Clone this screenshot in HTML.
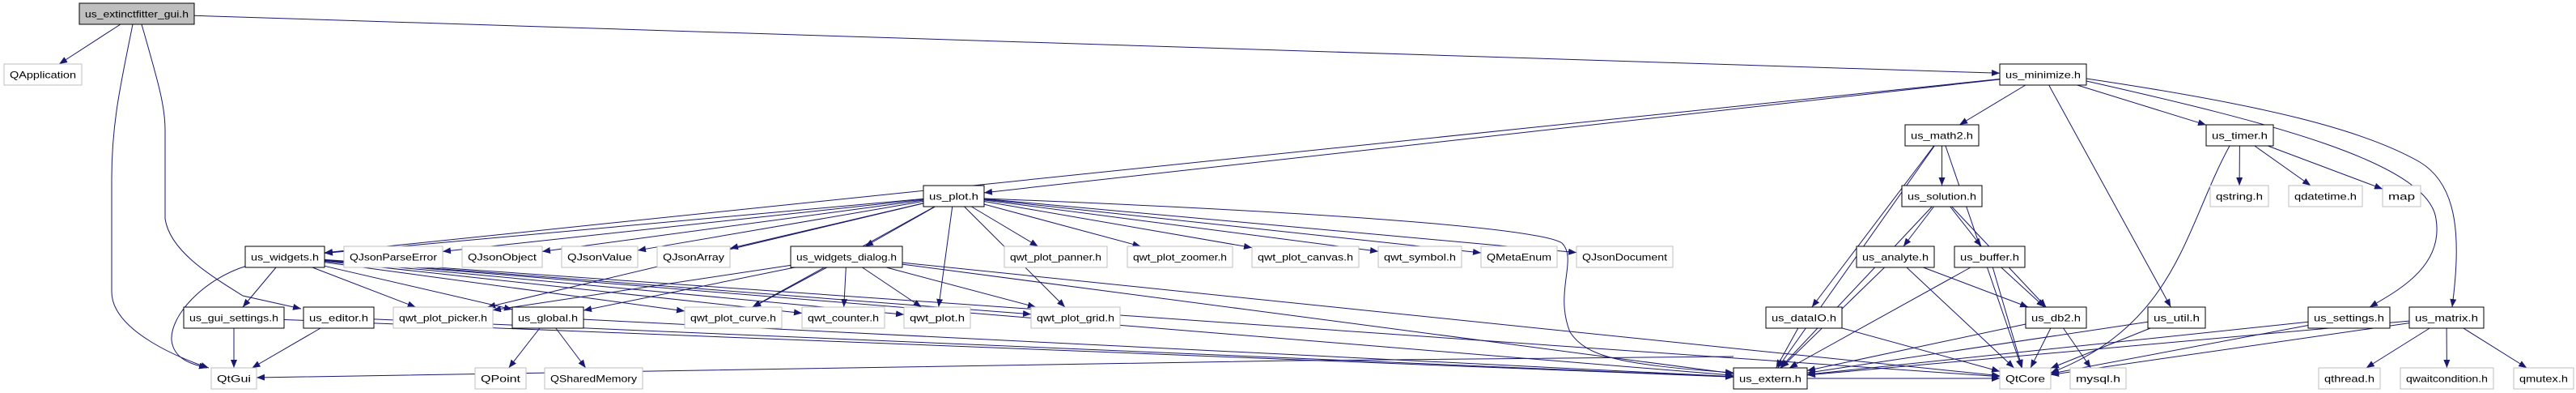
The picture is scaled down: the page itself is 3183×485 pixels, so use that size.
<!DOCTYPE html>
<html><head><meta charset="utf-8"><style>
html,body{margin:0;padding:0;background:#fff;}
svg{display:block;}
text{font-family:"Liberation Sans",Arial,sans-serif;font-size:12px;fill:#000;}
</style></head><body>
<svg id="g" width="3183" height="485" viewBox="0 0 3183 485" xmlns="http://www.w3.org/2000/svg">
<defs><marker id="a" viewBox="0 0 10 8" refX="10" refY="4" markerWidth="10" markerHeight="8" markerUnits="userSpaceOnUse" orient="auto"><path d="M0,0L10,4L0,8z" fill="#191970"/></marker></defs>
<g id="edges" fill="none" stroke="#191970" stroke-width="1"></g>
<g id="nodes">
<rect x="98" y="4" width="142" height="26" fill="#bfbfbf" stroke="#000"/><text x="169" y="21.5" text-anchor="middle">us_extinctfitter_gui.h</text>
<rect x="5" y="79" width="96" height="26" fill="#fff" stroke="#bfbfbf"/><text x="53" y="96.5" text-anchor="middle">QApplication</text>
<rect x="2471" y="79" width="107" height="26" fill="#fff" stroke="#000"/><text x="2524.5" y="96.5" text-anchor="middle">us_minimize.h</text>
<rect x="2354" y="154" width="91" height="26" fill="#fff" stroke="#000"/><text x="2399.5" y="171.5" text-anchor="middle">us_math2.h</text>
<rect x="2726" y="154" width="83" height="26" fill="#fff" stroke="#000"/><text x="2767.5" y="171.5" text-anchor="middle">us_timer.h</text>
<rect x="1141" y="229" width="75" height="26" fill="#fff" stroke="#000"/><text x="1178.5" y="246.5" text-anchor="middle">us_plot.h</text>
<rect x="2350" y="229" width="99" height="26" fill="#fff" stroke="#000"/><text x="2399.5" y="246.5" text-anchor="middle">us_solution.h</text>
<rect x="2731" y="229" width="72" height="26" fill="#fff" stroke="#bfbfbf"/><text x="2767" y="246.5" text-anchor="middle">qstring.h</text>
<rect x="2828" y="229" width="91" height="26" fill="#fff" stroke="#bfbfbf"/><text x="2873.5" y="246.5" text-anchor="middle">qdatetime.h</text>
<rect x="2944" y="229" width="47" height="26" fill="#fff" stroke="#bfbfbf"/><text x="2967.5" y="246.5" text-anchor="middle">map</text>
<rect x="303" y="304" width="98" height="26" fill="#fff" stroke="#000"/><text x="352" y="321.5" text-anchor="middle">us_widgets.h</text>
<rect x="425" y="304" width="122" height="26" fill="#fff" stroke="#bfbfbf"/><text x="486" y="321.5" text-anchor="middle">QJsonParseError</text>
<rect x="571" y="304" width="99" height="26" fill="#fff" stroke="#bfbfbf"/><text x="620.5" y="321.5" text-anchor="middle">QJsonObject</text>
<rect x="694" y="304" width="94" height="26" fill="#fff" stroke="#bfbfbf"/><text x="741" y="321.5" text-anchor="middle">QJsonValue</text>
<rect x="812" y="304" width="90" height="26" fill="#fff" stroke="#bfbfbf"/><text x="857" y="321.5" text-anchor="middle">QJsonArray</text>
<rect x="977" y="304" width="138" height="26" fill="#fff" stroke="#000"/><text x="1046" y="321.5" text-anchor="middle">us_widgets_dialog.h</text>
<rect x="1241" y="304" width="127" height="26" fill="#fff" stroke="#bfbfbf"/><text x="1304.5" y="321.5" text-anchor="middle">qwt_plot_panner.h</text>
<rect x="1393" y="304" width="130" height="26" fill="#fff" stroke="#bfbfbf"/><text x="1458" y="321.5" text-anchor="middle">qwt_plot_zoomer.h</text>
<rect x="1547" y="304" width="132" height="26" fill="#fff" stroke="#bfbfbf"/><text x="1613" y="321.5" text-anchor="middle">qwt_plot_canvas.h</text>
<rect x="1703" y="304" width="103" height="26" fill="#fff" stroke="#bfbfbf"/><text x="1754.5" y="321.5" text-anchor="middle">qwt_symbol.h</text>
<rect x="1830" y="304" width="94" height="26" fill="#fff" stroke="#bfbfbf"/><text x="1877" y="321.5" text-anchor="middle">QMetaEnum</text>
<rect x="1948" y="304" width="119" height="26" fill="#fff" stroke="#bfbfbf"/><text x="2007.5" y="321.5" text-anchor="middle">QJsonDocument</text>
<rect x="2294" y="304" width="96" height="26" fill="#fff" stroke="#000"/><text x="2342" y="321.5" text-anchor="middle">us_analyte.h</text>
<rect x="2415" y="304" width="87" height="26" fill="#fff" stroke="#000"/><text x="2458.5" y="321.5" text-anchor="middle">us_buffer.h</text>
<rect x="227" y="379" width="124" height="26" fill="#fff" stroke="#000"/><text x="289" y="396.5" text-anchor="middle">us_gui_settings.h</text>
<rect x="375" y="379" width="87" height="26" fill="#fff" stroke="#000"/><text x="418.5" y="396.5" text-anchor="middle">us_editor.h</text>
<rect x="486" y="379" width="123" height="26" fill="#fff" stroke="#bfbfbf"/><text x="547.5" y="396.5" text-anchor="middle">qwt_plot_picker.h</text>
<rect x="633" y="379" width="88" height="26" fill="#fff" stroke="#000"/><text x="677" y="396.5" text-anchor="middle">us_global.h</text>
<rect x="846" y="379" width="120" height="26" fill="#fff" stroke="#bfbfbf"/><text x="906" y="396.5" text-anchor="middle">qwt_plot_curve.h</text>
<rect x="991" y="379" width="102" height="26" fill="#fff" stroke="#bfbfbf"/><text x="1042" y="396.5" text-anchor="middle">qwt_counter.h</text>
<rect x="1117" y="379" width="82" height="26" fill="#fff" stroke="#bfbfbf"/><text x="1158" y="396.5" text-anchor="middle">qwt_plot.h</text>
<rect x="1274" y="379" width="110" height="26" fill="#fff" stroke="#bfbfbf"/><text x="1329" y="396.5" text-anchor="middle">qwt_plot_grid.h</text>
<rect x="2182" y="379" width="94" height="26" fill="#fff" stroke="#000"/><text x="2229" y="396.5" text-anchor="middle">us_dataIO.h</text>
<rect x="2503" y="379" width="75" height="26" fill="#fff" stroke="#000"/><text x="2540.5" y="396.5" text-anchor="middle">us_db2.h</text>
<rect x="2654" y="379" width="71" height="26" fill="#fff" stroke="#000"/><text x="2689.5" y="396.5" text-anchor="middle">us_util.h</text>
<rect x="2852" y="379" width="101" height="26" fill="#fff" stroke="#000"/><text x="2902.5" y="396.5" text-anchor="middle">us_settings.h</text>
<rect x="2977" y="379" width="92" height="26" fill="#fff" stroke="#000"/><text x="3023" y="396.5" text-anchor="middle">us_matrix.h</text>
<rect x="261" y="454" width="56" height="26" fill="#fff" stroke="#bfbfbf"/><text x="289" y="471.5" text-anchor="middle">QtGui</text>
<rect x="587" y="454" width="63" height="26" fill="#fff" stroke="#bfbfbf"/><text x="618.5" y="471.5" text-anchor="middle">QPoint</text>
<rect x="673" y="454" width="121" height="26" fill="#fff" stroke="#bfbfbf"/><text x="733.5" y="471.5" text-anchor="middle">QSharedMemory</text>
<rect x="2142" y="454" width="91" height="26" fill="#fff" stroke="#000"/><text x="2187.5" y="471.5" text-anchor="middle">us_extern.h</text>
<rect x="2471" y="454" width="63" height="26" fill="#fff" stroke="#bfbfbf"/><text x="2502.5" y="471.5" text-anchor="middle">QtCore</text>
<rect x="2558" y="454" width="69" height="26" fill="#fff" stroke="#bfbfbf"/><text x="2592.5" y="471.5" text-anchor="middle">mysql.h</text>
<rect x="2865" y="454" width="76" height="26" fill="#fff" stroke="#bfbfbf"/><text x="2903" y="471.5" text-anchor="middle">qthread.h</text>
<rect x="2966" y="454" width="115" height="26" fill="#fff" stroke="#bfbfbf"/><text x="3023.5" y="471.5" text-anchor="middle">qwaitcondition.h</text>
<rect x="3106" y="454" width="74" height="26" fill="#fff" stroke="#bfbfbf"/><text x="3143" y="471.5" text-anchor="middle">qmutex.h</text>
</g>
</svg>
<script>
(function(){
var svg=document.getElementById('g');
var B={};
svg.querySelectorAll('#nodes text').forEach(function(t){
 var r=t.previousElementSibling;
 B[t.textContent]={x:+r.getAttribute('x'),y:+r.getAttribute('y'),w:+r.getAttribute('width'),h:+r.getAttribute('height')};
 t.setAttribute('textLength',Math.max(10,+r.getAttribute('width')-14));
 t.setAttribute('lengthAdjust','spacingAndGlyphs');
});
function clip(b,tx,ty){var cx=b.x+b.w/2,cy=b.y+b.h/2,dx=tx-cx,dy=ty-cy;
 var s=1e9; if(dx)s=Math.min(s,(b.w/2)/Math.abs(dx)); if(dy)s=Math.min(s,(b.h/2)/Math.abs(dy));
 return [cx+dx*s,cy+dy*s];}
var E=[
["us_extinctfitter_gui.h","QApplication"],["us_extinctfitter_gui.h","us_minimize.h"],
["us_minimize.h","us_math2.h"],["us_minimize.h","us_plot.h"],["us_minimize.h","us_widgets.h"],["us_minimize.h","us_timer.h"],["us_minimize.h","us_util.h"],
["us_plot.h","us_widgets_dialog.h"],["us_plot.h","QJsonParseError"],["us_plot.h","QJsonObject"],["us_plot.h","QJsonValue"],["us_plot.h","QJsonArray"],["us_plot.h","qwt_plot_panner.h"],["us_plot.h","qwt_plot_zoomer.h"],["us_plot.h","qwt_plot_canvas.h"],["us_plot.h","qwt_symbol.h"],["us_plot.h","QMetaEnum"],["us_plot.h","QJsonDocument"],["us_plot.h","qwt_plot_curve.h"],["us_plot.h","qwt_plot.h"],["us_plot.h","qwt_plot_grid.h"],["us_plot.h","us_widgets.h"],["us_plot.h","qwt_plot_picker.h"],
["us_widgets.h","us_gui_settings.h"],["us_widgets.h","qwt_plot_picker.h"],["us_widgets.h","us_global.h"],["us_widgets.h","us_extern.h"],["us_widgets.h","qwt_plot_curve.h"],["us_widgets.h","qwt_counter.h"],["us_widgets.h","qwt_plot.h"],["us_widgets.h","qwt_plot_grid.h"],["us_widgets.h","QtCore"],
["us_widgets_dialog.h","qwt_plot_curve.h"],["us_widgets_dialog.h","qwt_counter.h"],["us_widgets_dialog.h","qwt_plot.h"],["us_widgets_dialog.h","qwt_plot_grid.h"],["us_widgets_dialog.h","qwt_plot_picker.h"],["us_widgets_dialog.h","us_global.h"],["us_widgets_dialog.h","us_extern.h"],["us_widgets_dialog.h","QtCore"],
["us_gui_settings.h","QtGui"],["us_gui_settings.h","us_extern.h"],["us_editor.h","QtGui"],["us_editor.h","us_extern.h"],
["us_global.h","QPoint"],["us_global.h","QSharedMemory"],["us_global.h","us_extern.h"],
["us_math2.h","us_solution.h"],["us_math2.h","us_extern.h"],["us_math2.h","us_dataIO.h"],["us_math2.h","QtCore"],
["us_solution.h","us_analyte.h"],["us_solution.h","us_buffer.h"],["us_solution.h","us_db2.h"],["us_solution.h","us_extern.h"],
["us_analyte.h","us_extern.h"],["us_analyte.h","us_db2.h"],["us_analyte.h","QtCore"],
["us_buffer.h","us_db2.h"],["us_buffer.h","us_extern.h"],["us_buffer.h","QtCore"],
["us_dataIO.h","us_extern.h"],["us_dataIO.h","QtCore"],
["us_db2.h","QtCore"],["us_db2.h","mysql.h"],["us_db2.h","us_extern.h"],
["us_util.h","us_extern.h"],["us_util.h","QtCore"],
["us_timer.h","qstring.h"],["us_timer.h","qdatetime.h"],["us_timer.h","map"],
["us_settings.h","us_extern.h"],["us_settings.h","QtCore"],
["us_matrix.h","qthread.h"],["us_matrix.h","qwaitcondition.h"],["us_matrix.h","qmutex.h"],["us_matrix.h","QtCore"],["us_matrix.h","us_extern.h"],
["us_extern.h","QtCore"]
];
var g=document.getElementById('edges'),NS='http://www.w3.org/2000/svg';
function add(d){var l=document.createElementNS(NS,'path');l.setAttribute('d',d);l.setAttribute('marker-end','url(#a)');g.appendChild(l);}
E.forEach(function(e){var a=B[e[0]],b=B[e[1]];if(!a||!b)return;
 var ax=a.x+a.w/2,ay=a.y+a.h/2,bx=b.x+b.w/2,by=b.y+b.h/2;
 var p=clip(a,bx,by),q=clip(b,ax,ay);
 add('M'+p[0]+','+p[1]+'L'+q[0]+','+q[1]);});
add('M2142,440C1500,445 700,455 317,466');
add('M164,30C150,100 138,150 138,220L138,360C138,410 230,445 258,454');
add('M175,30C195,100 204,130 204,160L204,270C210,310 260,340 300,365L372,381');
add('M305,328C250,345 210,390 212,420C215,445 240,450 256,454');
add('M2578,100C2800,150 3000,200 3010,270C3020,330 2960,360 2928,379');
add('M2578,97C2800,130 2920,160 2990,200C3040,230 3040,300 3030,379');
add('M2755,180C2700,280 2690,400 2534,460');
add('M1216,245C1600,260 1900,280 1930,300C1950,320 1920,360 1940,410C1960,440 2000,450 2142,460');
})();
</script>
</body></html>
